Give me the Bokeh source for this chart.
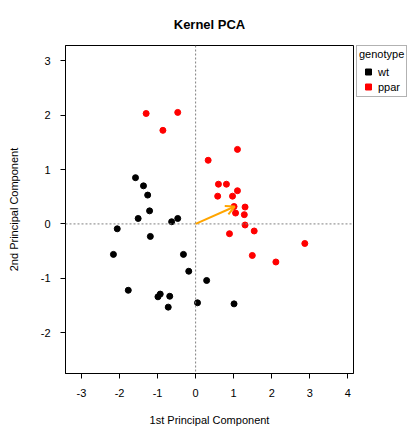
from bokeh.plotting import figure
from bokeh.layouts import row
from bokeh.models import (Span, Arrow, OpenHead, Legend, LegendItem,
                          FixedTicker, Range1d)
from bokeh.embed import file_html
from bokeh.resources import INLINE

# Data
wt_x = [-1.58, -1.37, -1.26, -1.21, -1.51, -0.63, -0.47, -2.06, -1.19, -2.16,
        -0.32, -0.18, 0.29, -1.77, -0.99, -0.93, -0.68, -0.72, 0.05, 1.01]
wt_y = [0.85, 0.70, 0.53, 0.24, 0.10, 0.04, 0.10, -0.09, -0.23, -0.56,
        -0.56, -0.87, -1.04, -1.22, -1.34, -1.29, -1.33, -1.53, -1.45, -1.47]
ppar_x = [-1.30, -0.47, -0.86, 0.33, 1.10, 0.60, 0.81, 1.10, 0.58, 0.97,
          1.01, 1.30, 1.05, 1.28, 1.30, 0.89, 1.54, 2.87, 1.49, 2.11]
ppar_y = [2.03, 2.05, 1.72, 1.17, 1.37, 0.73, 0.73, 0.61, 0.51, 0.51,
          0.32, 0.31, 0.20, 0.17, -0.02, -0.18, -0.13, -0.36, -0.58, -0.70]
arrow_end = (1.03, 0.32)
x_ticks = [-3, -2, -1, 0, 1, 2, 3, 4]
y_ticks = [-2, -1, 0, 1, 2, 3]
groups = ["wt", "ppar"]
colors = ["black", "red"]

FONT = "Liberation Sans"

p = figure(width=356, height=428, output_backend="svg", toolbar_location=None,
           x_range=Range1d(-3.42, 4.15), y_range=Range1d(-2.75, 3.28),
           min_border_left=65, min_border_right=3, min_border_top=45,
           min_border_bottom=54, title="Kernel PCA")
p.title.align = "center"
p.title.text_font = FONT
p.title.text_font_size = "13px"
p.title.text_font_style = "bold"
p.title.text_color = "black"
p.title.offset = 0
p.title.standoff = 28

p.grid.visible = False
p.outline_line_color = "black"
p.outline_line_width = 1
p.background_fill_color = "white"
p.border_fill_color = "white"

for ax in (p.xaxis[0], p.yaxis[0]):
    ax.major_tick_in = 0
    ax.major_tick_out = 5
    ax.minor_tick_line_color = None
    ax.major_label_text_font = FONT
    ax.major_label_text_font_size = "11px"
    ax.major_label_text_color = "black"
    ax.axis_label_text_font = FONT
    ax.axis_label_text_font_size = "11px"
    ax.axis_label_text_font_style = "normal"
    ax.axis_label_text_color = "black"
    ax.axis_line_color = "black"
    ax.major_tick_line_color = "black"

p.xaxis.ticker = FixedTicker(ticks=x_ticks)
p.yaxis.ticker = FixedTicker(ticks=y_ticks)
p.xaxis.major_label_overrides = {t: str(t) for t in x_ticks}
p.yaxis.major_label_overrides = {t: str(t) for t in y_ticks}
p.xaxis.axis_label = "1st Principal Component"
p.yaxis.axis_label = "2nd Principal Component"
p.xaxis.major_label_standoff = 10
p.xaxis.axis_label_standoff = 14
p.yaxis.major_label_standoff = 10
p.yaxis.axis_label_standoff = 18
p.yaxis.major_label_orientation = "horizontal"

p.add_layout(Span(location=0, dimension="width", line_color="gray",
                  line_dash="2 2", line_width=1))
p.add_layout(Span(location=0, dimension="height", line_color="gray",
                  line_dash="2 2", line_width=1))

p.scatter(wt_x, wt_y, marker="circle", size=6, color=colors[0])
p.scatter(ppar_x, ppar_y, marker="circle", size=6, color=colors[1])

p.add_layout(Arrow(end=OpenHead(line_color="orange", line_width=2, size=9),
                   x_start=0, y_start=0, x_end=arrow_end[0], y_end=arrow_end[1],
                   line_color="orange", line_width=2))

# separate narrow figure holding the legend
lf = figure(width=52, height=428, output_backend="svg", toolbar_location=None,
            x_range=Range1d(0, 1), y_range=Range1d(0, 1),
            min_border_left=0, min_border_right=0, min_border_top=45,
            min_border_bottom=54)
lf.axis.visible = False
lf.grid.visible = False
lf.outline_line_color = None
lf.border_fill_color = "white"

leg_items = []
for g, c in zip(groups, colors):
    # one point outside the visible range so the legend swatch is drawn
    r = lf.scatter([-5], [-5], marker="square", size=4, color=c)
    leg_items.append(LegendItem(label=g, renderers=[r]))

legend = Legend(items=leg_items, title="genotype", location="top_left",
                border_line_color="#666666", border_line_width=1,
                background_fill_alpha=1, padding=2, spacing=0,
                label_text_font=FONT, label_text_font_size="11px",
                label_text_color="black",
                title_text_font=FONT, title_text_font_size="11px",
                title_text_color="black",
                title_text_font_style="normal", glyph_width=18, glyph_height=15,
                label_height=15, margin=0, label_standoff=1, title_standoff=4)
lf.add_layout(legend)

open("out.html", "w").write(file_html(row(p, lf), INLINE))
